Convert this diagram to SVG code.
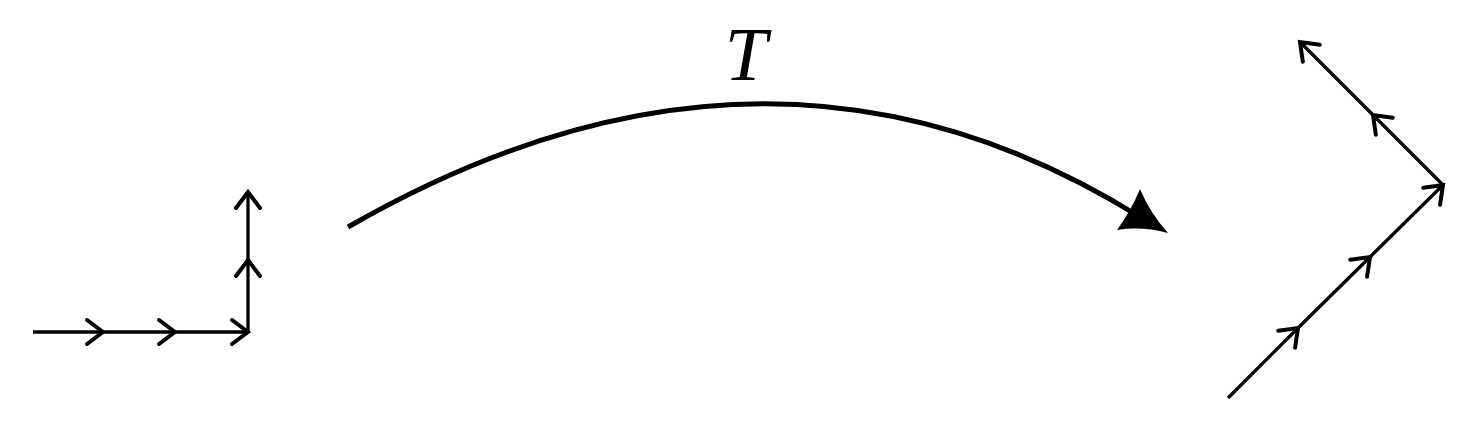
<svg xmlns="http://www.w3.org/2000/svg" width="1477" height="428" viewBox="0 0 1477 428">
  <style>
    .seg { fill: none; stroke: #000; stroke-width: 3.3; marker-mid: url(#chev); marker-end: url(#chev); }
    .arc { fill: none; stroke: #000; stroke-width: 5; }
    .lbl { font-family: "Liberation Serif", "DejaVu Serif", serif; font-style: italic; font-size: 76px; fill: #000; }
  </style>
  <defs>
    <marker id="chev" markerUnits="userSpaceOnUse" viewBox="-20 -16 24 32" refX="0" refY="0" markerWidth="24" markerHeight="32" orient="auto" overflow="visible">
      <path d="M -16 -12 L 0 0 L -16 12" fill="none" stroke="#000" stroke-width="4" stroke-linecap="round" stroke-linejoin="miter"/>
    </marker>
  </defs>
  <rect width="1477" height="428" fill="#fff"/>
  <g id="source">
    <polyline class="seg" points="33,332 103,332 175,332 248,332"/>
    <polyline class="seg" points="248,333 248,260 248,192"/>
  </g>
  <g id="image">
    <polyline class="seg" points="1228,398 1298,328 1370,257 1443,185"/>
    <polyline class="seg" points="1443,185 1373,115 1300,42"/>
  </g>
  <g id="connectors">
    <path class="arc" d="M 348 227 Q 771 -16 1145 220"/>
    <path d="M 1168 233 Q 1142 226 1117 230 Q 1131 211 1140 189 Q 1150 213 1168 233 Z" fill="#000"/>
    <text class="lbl" x="746" y="80" text-anchor="middle">T</text>
  </g>
</svg>
